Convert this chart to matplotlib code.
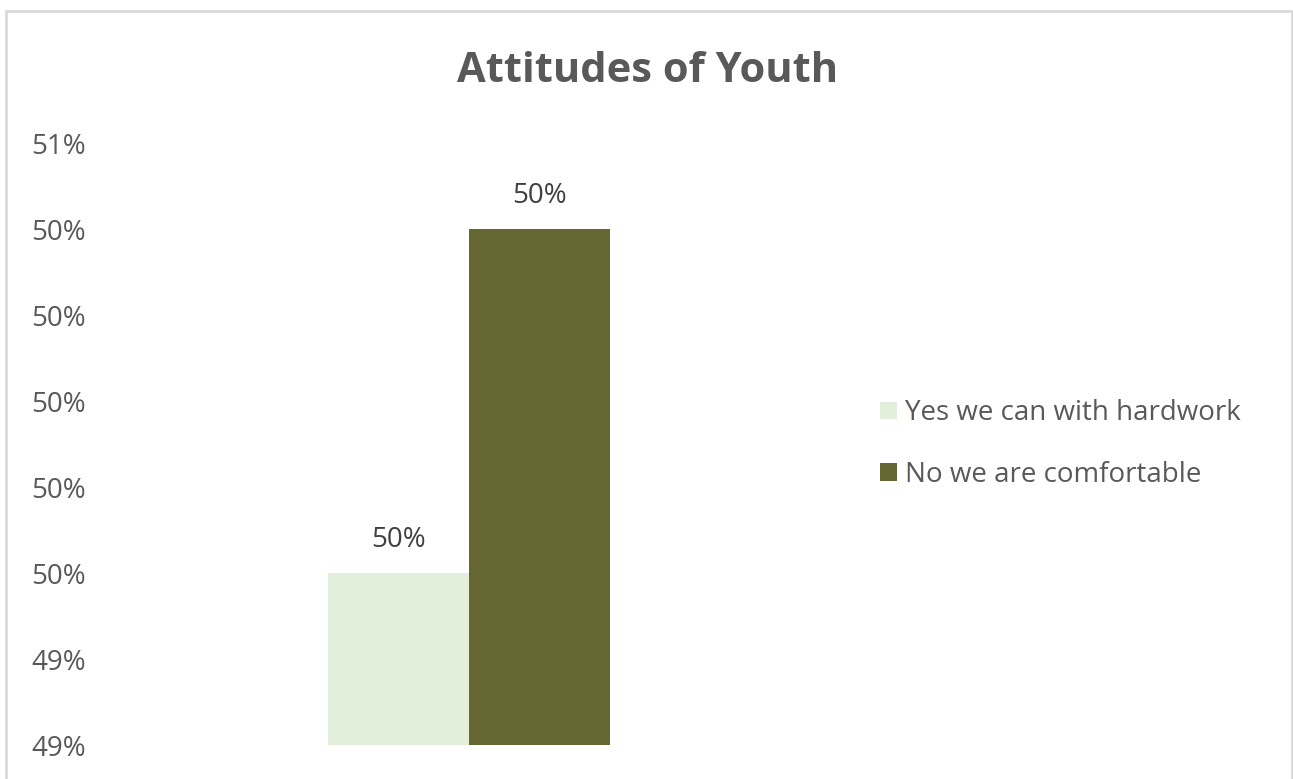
import matplotlib
matplotlib.use("Agg")
import matplotlib.pyplot as plt
from matplotlib.patches import Rectangle
from matplotlib.ticker import FuncFormatter

plt.rcParams['font.family'] = ['Open Sans', 'DejaVu Sans']

# ── data ───────────────────────────────────────────────────────────
series = ['Yes we can with hardwork', 'No we are comfortable']
values = [49.6, 50.4]          # percent
colors = ['#e2efda', '#666633']
y_ticks = [49.2, 49.4, 49.6, 49.8, 50.0, 50.2, 50.4, 50.6]

text_grey = '#595959'
label_grey = '#404040'

# ── figure ─────────────────────────────────────────────────────────
fig = plt.figure(figsize=(12.93, 7.79), dpi=100)
fig.patches.append(Rectangle((6 / 1293, -0.01), 1286 / 1293, 1 - 11 / 779 + 0.01,
                             transform=fig.transFigure, fill=False,
                             edgecolor='#d9d9d9', linewidth=2))

ax = fig.add_axes([98 / 1293, 1 - 745 / 779, 742 / 1293, (745 - 143) / 779])

bar_w = 0.19
offsets = [-bar_w / 2, bar_w / 2]
for name, val, col, off in zip(series, values, colors, offsets):
    ax.bar(off, val - y_ticks[0], bottom=y_ticks[0], width=bar_w,
           color=col, label=name)
    ax.text(off, val + 0.045, f'{val:.0f}%', ha='center', va='bottom',
            fontsize=20, color=label_grey)

ax.set_xlim(-0.5, 0.5)
ax.set_ylim(y_ticks[0], y_ticks[-1])
ax.set_yticks(y_ticks)
ax.yaxis.set_major_formatter(FuncFormatter(lambda v, p: f'{v:.0f}%'))
ax.tick_params(axis='y', length=0, labelsize=20, labelcolor=text_grey, pad=9)
ax.set_xticks([])
for s in ax.spines.values():
    s.set_visible(False)

fig.text(648 / 1293, 1 - 72 / 779, 'Attitudes of Youth', ha='center', va='center',
         fontsize=30, fontweight='bold', color=text_grey)

fig.legend(loc='center left', bbox_to_anchor=(880 / 1293, 1 - 444 / 779),
           frameon=False, fontsize=20, labelcolor=text_grey,
           borderpad=0, borderaxespad=0,
           handlelength=0.6, handleheight=0.6, handletextpad=0.3,
           labelspacing=1.2)

fig.savefig('out.png', dpi=100, facecolor='white')
